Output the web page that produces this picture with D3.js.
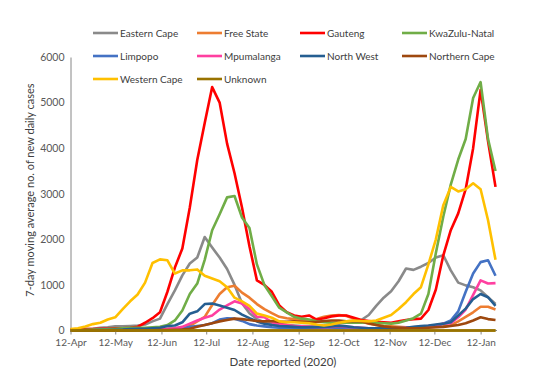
<!DOCTYPE html>
<html><head><meta charset="utf-8">
<script src="https://cdn.jsdelivr.net/npm/d3@7"></script>
<style>
body{margin:0;background:#fff;}
text{font-family:Lato,"Open Sans",sans-serif;}
</style></head>
<body><svg id="c" width="547" height="386"></svg>
<script>
const dates = ["2020-04-12","2020-04-17","2020-04-22","2020-04-27","2020-05-02","2020-05-07","2020-05-12","2020-05-17","2020-05-22","2020-05-27",
"2020-06-01","2020-06-06","2020-06-11","2020-06-16","2020-06-21","2020-06-26","2020-07-01","2020-07-06","2020-07-11","2020-07-16",
"2020-07-21","2020-07-26","2020-07-31","2020-08-05","2020-08-10","2020-08-15","2020-08-20","2020-08-25","2020-08-30","2020-09-04",
"2020-09-09","2020-09-14","2020-09-19","2020-09-24","2020-09-29","2020-10-04","2020-10-09","2020-10-14","2020-10-19","2020-10-24",
"2020-10-29","2020-11-03","2020-11-08","2020-11-13","2020-11-18","2020-11-23","2020-11-28","2020-12-03","2020-12-08","2020-12-13",
"2020-12-18","2020-12-23","2020-12-28","2021-01-02","2021-01-07","2021-01-12","2021-01-17","2021-01-22"];

const easternCape = [10,20,30,40,60,70,90,90,100,110,130,200,260,580,880,1210,1470,1600,2050,1820,1600,1350,1000,600,380,250,180,150,130,120,110,100,100,100,110,130,150,170,200,230,340,540,720,860,1080,1360,1330,1400,1480,1600,1650,1320,1050,990,950,880,730,580];
const freeState = [5,5,5,5,10,10,10,10,15,20,20,25,30,40,50,70,100,200,300,560,800,950,980,830,720,580,470,380,300,270,250,230,220,250,300,330,340,320,260,200,150,120,100,90,80,70,70,60,70,80,90,110,200,300,400,520,520,460];
const gauteng = [20,20,30,30,40,40,50,50,60,80,170,270,400,850,1380,1800,2700,3740,4550,5340,5000,4100,3450,2700,1850,1100,1000,850,550,400,330,300,330,240,270,310,330,330,280,230,210,190,180,170,200,230,250,260,450,900,1650,2200,2570,3100,4000,5280,4150,3150];
const kwaZuluNatal = [10,10,15,20,25,30,40,50,60,60,60,70,80,120,220,440,800,1030,1550,2200,2550,2920,2950,2480,2250,1450,1000,750,500,400,300,260,240,200,180,170,170,170,170,170,180,170,160,150,170,220,270,370,800,1700,2500,3200,3750,4200,5100,5450,4200,3500];
const limpopo = [2,2,3,3,4,5,5,6,8,10,12,15,20,30,40,50,80,100,120,160,240,270,260,210,140,110,90,70,60,55,50,50,50,55,60,60,60,55,50,45,40,40,40,40,45,50,60,70,80,100,150,220,420,850,1250,1500,1540,1200];
const mpumalanga = [2,2,3,3,5,5,5,5,8,10,12,15,20,30,50,80,150,220,280,330,460,550,640,590,470,300,290,180,150,120,100,90,80,70,70,80,90,80,70,60,50,50,50,50,50,60,70,80,100,120,150,160,290,460,780,1100,1030,1040];
const northWest = [2,3,5,5,8,10,15,20,30,35,40,50,60,100,110,180,370,420,580,590,550,500,450,350,270,200,150,120,100,90,80,70,70,70,80,90,100,90,70,60,50,50,50,50,55,60,80,100,110,130,150,180,330,480,690,800,730,540];
const northernCape = [1,1,1,1,2,2,2,3,3,4,5,6,8,10,15,20,40,80,120,160,200,230,260,250,230,210,200,210,190,190,200,190,180,190,210,220,220,200,210,200,160,120,90,70,60,50,50,50,60,70,80,100,120,160,220,290,250,230];
const westernCape = [30,50,90,140,170,240,290,470,640,790,1050,1480,1560,1540,1250,1320,1320,1340,1200,1140,1080,950,720,640,540,370,330,280,200,180,180,170,160,130,110,130,170,200,220,210,200,220,280,340,470,620,800,950,1450,2000,2750,3150,3050,3100,3230,3100,2420,1550];
const unknown = [0,0,0,0,0,0,0,0,0,0,0,0,0,0,0,0,0,0,0,0,0,0,0,0,0,0,0,0,0,0,0,0,0,0,0,0,0,0,0,0,0,0,0,0,0,0,0,0,0,0,0,0,0,0,0,0,0,0];

const seriesNames = ["Eastern Cape","Free State","Gauteng","KwaZulu-Natal","Limpopo","Mpumalanga","North West","Northern Cape","Western Cape","Unknown"];
const seriesValues = [easternCape,freeState,gauteng,kwaZuluNatal,limpopo,mpumalanga,northWest,northernCape,westernCape,unknown];
const seriesColors = ["#8a8a8a","#ED7D31","#FF0000","#70AD47","#4472C4","#FF3FA0","#255E91","#9E480E","#FFC000","#997300"];
const yTicks = [0,1000,2000,3000,4000,5000,6000];
const xTickDates = ["2020-04-12","2020-05-12","2020-06-12","2020-07-12","2020-08-12","2020-09-12","2020-10-12","2020-11-12","2020-12-12","2021-01-12"];
const xTitle = "Date reported (2020)";
const yTitle = "7-day moving average no. of new daily cases";

const parse = d3.timeParse("%Y-%m-%d");
const svg = d3.select("#c");
const x = d3.scaleTime().domain([parse("2020-04-12"), parse("2021-01-23")]).range([70.5, 497]);
const y = d3.scaleLinear().domain([0,6000]).range([330.5, 57]);

// y axis
const ya = svg.append("g").attr("transform","translate(70.5,0)")
  .call(d3.axisLeft(y).tickValues(yTicks).tickSize(0).tickPadding(6).tickFormat(d3.format("d")));
ya.select(".domain").attr("stroke","#868686");
ya.selectAll("text").attr("font-size","10.5px").attr("fill","#595959").attr("font-family","Lato");

// lines
const line = d3.line().x((d,i)=>x(parse(dates[i]))).y(d=>y(d)).curve(d3.curveLinear);
seriesValues.forEach((vals,i)=>{
  svg.append("path").datum(vals).attr("d",line).attr("fill","none")
    .attr("stroke",seriesColors[i]).attr("stroke-width",2.6).attr("stroke-linejoin","round");
});

// x axis
const xa = svg.append("g").attr("transform","translate(0,330.5)")
  .call(d3.axisBottom(x).tickValues(xTickDates.map(parse)).tickSize(4).tickPadding(4).tickFormat(d3.timeFormat("%d-%b")));
xa.select(".domain").attr("stroke","#868686").attr("d","M70.5,0H497");
xa.selectAll(".tick line").attr("stroke","#868686");
xa.selectAll("text").attr("font-size","10px").attr("fill","#595959").attr("font-family","Lato");
// redraw unknown on top of axis
svg.append("path").datum(unknown).attr("d",line).attr("fill","none").attr("stroke",seriesColors[9]).attr("stroke-width",2.6);

svg.append("text").attr("x",283).attr("y",366).attr("text-anchor","middle")
  .attr("font-size","11.5px").attr("fill","#404040").text(xTitle);
svg.append("text").attr("transform","translate(34,190) rotate(-90)").attr("text-anchor","middle")
  .attr("font-size","11px").attr("fill","#404040").text(yTitle);

// legend
const colX = [93,197,300,402], rowY = [33,56,79];
seriesNames.forEach((n,i)=>{
  const cx = colX[i%4], cy = rowY[Math.floor(i/4)];
  svg.append("line").attr("x1",cx).attr("x2",cx+25).attr("y1",cy).attr("y2",cy)
    .attr("stroke",seriesColors[i]).attr("stroke-width",2.6);
  svg.append("text").attr("x",cx+27).attr("y",cy+3.5).attr("font-size","10px").attr("fill","#404040").text(n);
});
</script></body></html>
